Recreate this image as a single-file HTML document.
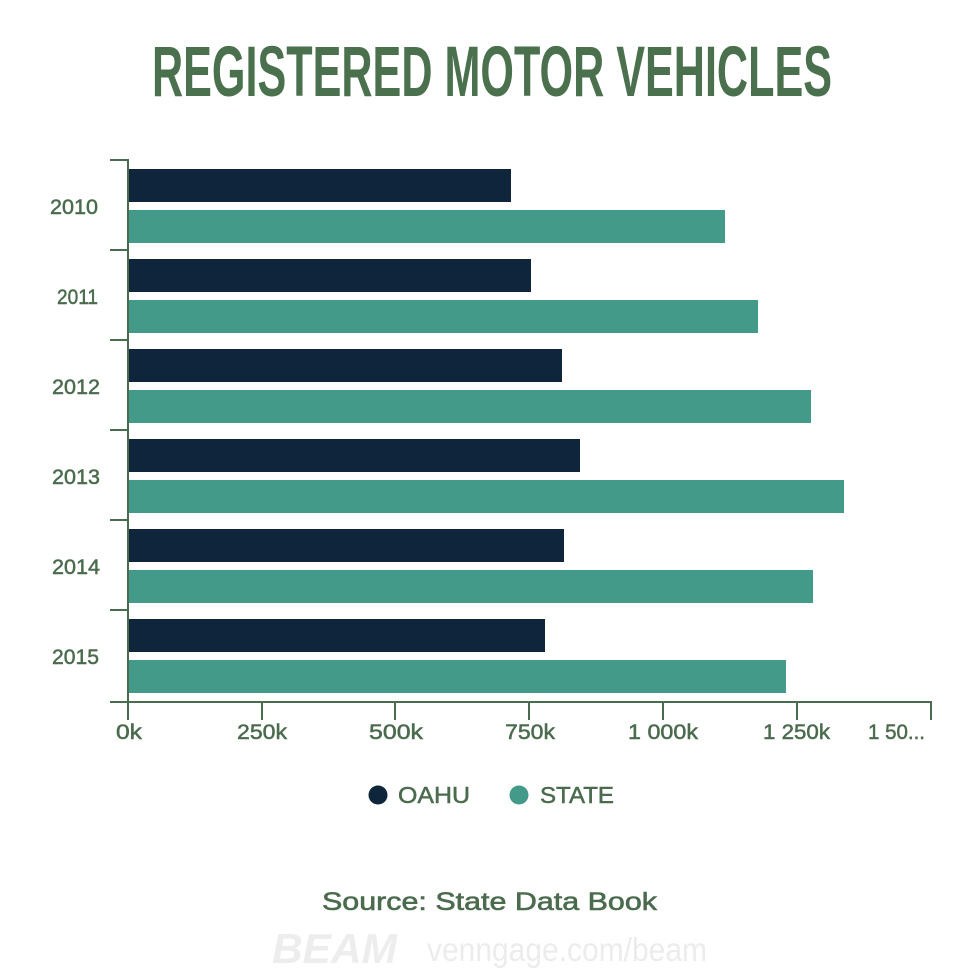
<!DOCTYPE html>
<html>
<head>
<meta charset="utf-8">
<style>
  html,body{margin:0;padding:0;background:#ffffff;}
  svg{display:block;}
  text{font-family:"Liberation Sans",sans-serif;}
</style>
</head>
<body>
<svg width="980" height="980" viewBox="0 0 980 980" xmlns="http://www.w3.org/2000/svg">
  <rect width="980" height="980" fill="#ffffff"/>
  <!-- Title -->
  <text x="152" y="96" font-size="71" font-weight="bold" fill="#4a704e" textLength="680" lengthAdjust="spacingAndGlyphs">REGISTERED MOTOR VEHICLES</text>

  <!-- Bars -->
  <g>
    <rect x="129" y="169" width="382" height="33" fill="#0e253b"/>
    <rect x="129" y="210" width="596" height="33" fill="#439a89"/>

    <rect x="129" y="259" width="402" height="33" fill="#0e253b"/>
    <rect x="129" y="300" width="629" height="33" fill="#439a89"/>

    <rect x="129" y="349" width="433" height="33" fill="#0e253b"/>
    <rect x="129" y="390" width="682" height="33" fill="#439a89"/>

    <rect x="129" y="439" width="451" height="33" fill="#0e253b"/>
    <rect x="129" y="480" width="715" height="33" fill="#439a89"/>

    <rect x="129" y="529" width="435" height="33" fill="#0e253b"/>
    <rect x="129" y="570" width="684" height="33" fill="#439a89"/>

    <rect x="129" y="619" width="416" height="33" fill="#0e253b"/>
    <rect x="129" y="660" width="657" height="33" fill="#439a89"/>
  </g>

  <!-- Axes -->
  <g stroke="#4b6b4e" stroke-width="2" fill="none">
    <line x1="128" y1="159" x2="128" y2="720"/>
    <line x1="110" y1="702" x2="932" y2="702"/>
    <line x1="110" y1="160" x2="128" y2="160"/>
    <line x1="110" y1="250" x2="128" y2="250"/>
    <line x1="110" y1="340" x2="128" y2="340"/>
    <line x1="110" y1="430" x2="128" y2="430"/>
    <line x1="110" y1="520" x2="128" y2="520"/>
    <line x1="110" y1="610" x2="128" y2="610"/>
    <line x1="262" y1="702" x2="262" y2="720"/>
    <line x1="395" y1="702" x2="395" y2="720"/>
    <line x1="529" y1="702" x2="529" y2="720"/>
    <line x1="663" y1="702" x2="663" y2="720"/>
    <line x1="797" y1="702" x2="797" y2="720"/>
    <line x1="931" y1="702" x2="931" y2="720"/>
  </g>

  <!-- Year labels -->
  <g font-size="21" fill="#4b6b4e" stroke="#4b6b4e" stroke-width="0.5" text-anchor="end">
    <text x="98" y="214" textLength="48" lengthAdjust="spacingAndGlyphs">2010</text>
    <text x="98" y="304" textLength="41" lengthAdjust="spacingAndGlyphs">2011</text>
    <text x="100" y="394" textLength="48" lengthAdjust="spacingAndGlyphs">2012</text>
    <text x="100" y="484" textLength="48" lengthAdjust="spacingAndGlyphs">2013</text>
    <text x="100" y="574" textLength="48" lengthAdjust="spacingAndGlyphs">2014</text>
    <text x="99" y="664" textLength="47" lengthAdjust="spacingAndGlyphs">2015</text>
  </g>

  <!-- X tick labels -->
  <g font-size="21" fill="#4b6b4e" stroke="#4b6b4e" stroke-width="0.5">
    <text x="116" y="739" textLength="26" lengthAdjust="spacingAndGlyphs">0k</text>
    <text x="237" y="739" textLength="50" lengthAdjust="spacingAndGlyphs">250k</text>
    <text x="369" y="739" textLength="54" lengthAdjust="spacingAndGlyphs">500k</text>
    <text x="505" y="739" textLength="50" lengthAdjust="spacingAndGlyphs">750k</text>
    <text x="628" y="739" textLength="70" lengthAdjust="spacingAndGlyphs">1 000k</text>
    <text x="763" y="739" textLength="67" lengthAdjust="spacingAndGlyphs">1 250k</text>
    <text x="868" y="739" textLength="57" lengthAdjust="spacingAndGlyphs">1 50...</text>
  </g>

  <!-- Legend -->
  <circle cx="378" cy="795" r="9.5" fill="#0e253b"/>
  <text x="398" y="803" font-size="23" fill="#4b6b4e" stroke="#4b6b4e" stroke-width="0.5" textLength="72" lengthAdjust="spacingAndGlyphs">OAHU</text>
  <circle cx="519" cy="795" r="9.5" fill="#439a89"/>
  <text x="540" y="803" font-size="23" fill="#4b6b4e" stroke="#4b6b4e" stroke-width="0.5" textLength="74" lengthAdjust="spacingAndGlyphs">STATE</text>

  <!-- Source -->
  <text x="322" y="910" font-size="25" fill="#4b6b4e" stroke="#4b6b4e" stroke-width="0.6" textLength="335" lengthAdjust="spacingAndGlyphs">Source: State Data Book</text>

  <!-- Watermark -->
  <text x="272" y="963" font-family="Liberation Serif, serif" font-size="42" font-weight="bold" font-style="italic" fill="#ededed" textLength="125" lengthAdjust="spacingAndGlyphs">BEAM</text>
  <text x="427" y="961" font-size="33" fill="#ececec" textLength="280" lengthAdjust="spacingAndGlyphs">venngage.com/beam</text>
</svg>
</body>
</html>
